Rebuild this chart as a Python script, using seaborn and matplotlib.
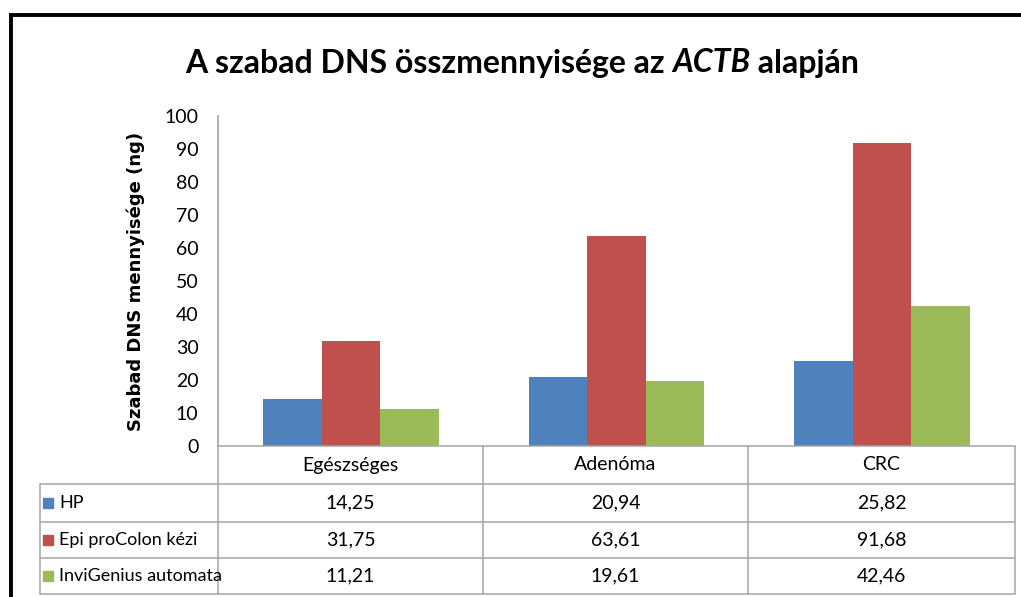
import matplotlib
matplotlib.use("Agg")
import matplotlib.pyplot as plt
from matplotlib.lines import Line2D
from matplotlib.patches import Rectangle
import seaborn as sns
import pandas as pd

# data
categories = ["Egészséges", "Adenóma", "CRC"]
series = ["HP", "Epi proColon kézi", "InviGenius automata"]
hp_vals = [14.25, 20.94, 25.82]
epi_vals = [31.75, 63.61, 91.68]
invi_vals = [11.21, 19.61, 42.46]
colors = ["#4F81BD", "#C0504D", "#9BBB59"]
yticks = list(range(0, 101, 10))

W, H = 1021, 597
GRID = "#A6A6A6"
FONT = ["Lato", "DejaVu Sans"]

sns.set_theme(style="white")
plt.rcParams["font.family"] = FONT
plt.rcParams["text.color"] = "black"


def px(x, y):
    return x / W, 1 - y / H


def fmt(v):
    return f"{v:.2f}".replace(".", ",")


rows = []
for s, vals in zip(series, [hp_vals, epi_vals, invi_vals]):
    for c, v in zip(categories, vals):
        rows.append({"cat": c, "series": s, "val": v})
df = pd.DataFrame(rows)

fig = plt.figure(figsize=(W / 100, H / 100), dpi=100, facecolor="white")

# plot area
x0, x1, ytop, ybot = 218, 1015, 116, 446
ax = fig.add_axes([x0 / W, 1 - ybot / H, (x1 - x0) / W, (ybot - ytop) / H])
sns.barplot(data=df, x="cat", y="val", hue="series", order=categories,
            hue_order=series, palette=colors, width=0.66, saturation=1,
            linewidth=0, legend=False, ax=ax)
ax.set_xlim(-0.5, 2.5)
ax.set_ylim(0, 100)
ax.set_yticks(yticks)
ax.set_yticklabels([str(t) for t in yticks], fontsize=14, color="black")
ax.set_xticks([])
ax.set_xlabel("")
ax.tick_params(axis="y", length=0, pad=14)
ax.spines[["top", "right", "bottom"]].set_visible(False)
ax.spines["left"].set_color(GRID)
ax.grid(False)
ax.set_facecolor("none")

ax.set_ylabel("Szabad DNS mennyisége (ng)", fontsize=13, fontweight="bold",
              family=["DejaVu Sans"], color="black", labelpad=14)

# data table below the plot
col_x = [218, 483, 748, 1015]
row_y = [446, 484, 522, 558, 594]
tx_left = 40


def hline(xa, xb, y):
    fig.add_artist(Line2D([xa / W, xb / W], [1 - y / H, 1 - y / H],
                          color=GRID, lw=1.1))


def vline(x, ya, yb):
    fig.add_artist(Line2D([x / W, x / W], [1 - ya / H, 1 - yb / H],
                          color=GRID, lw=1.1))


hline(col_x[0], col_x[-1], row_y[0])
for y in row_y[1:]:
    hline(tx_left, col_x[-1], y)
vline(tx_left, row_y[1], row_y[-1])
for x in col_x:
    vline(x, row_y[0], row_y[-1])

for i, c in enumerate(categories):
    cx = (col_x[i] + col_x[i + 1]) / 2
    fig.text(*px(cx, (row_y[0] + row_y[1]) / 2), c, ha="center", va="center",
             fontsize=14)

for r, (s, vals, col) in enumerate(zip(series, [hp_vals, epi_vals, invi_vals], colors)):
    yc = (row_y[r + 1] + row_y[r + 2]) / 2
    fig.add_artist(Rectangle(px(43, yc + 5), 10 / W, 10 / H, color=col,
                             transform=fig.transFigure))
    fig.text(*px(59, yc), s, ha="left", va="center", fontsize=13)
    for i, v in enumerate(vals):
        cx = (col_x[i] + col_x[i + 1]) / 2
        fig.text(*px(cx, yc), fmt(v), ha="center", va="center", fontsize=14)

# title with italic gene name
title_parts = [("A szabad DNS összmennyisége az ", "normal"),
               ("ACTB", "italic"),
               (" alapján", "normal")]
renderer = fig.canvas.get_renderer()
texts = []
total = 0
for s, st in title_parts:
    t = fig.text(0, 1 - 63 / H, s, fontsize=23, fontweight="bold", style=st,
                 va="center", ha="left")
    w = t.get_window_extent(renderer).width
    texts.append((t, w))
    total += w
xpos = 522 - total / 2
for t, w in texts:
    t.set_x(xpos / W)
    xpos += w

# outer chart border
fig.add_artist(Line2D([11 / W, 11 / W, 1.0], [0.0, 1 - 15 / H, 1 - 15 / H],
                      color="black", lw=2.8, solid_joinstyle="miter"))

fig.savefig("out.png", dpi=100, facecolor="white")
